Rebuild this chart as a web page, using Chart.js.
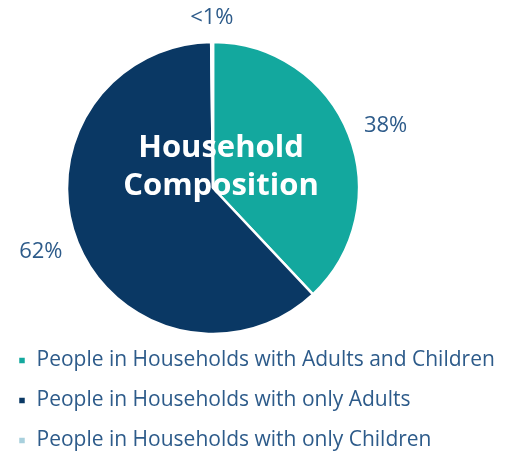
<!DOCTYPE html>
<html>
<head>
<meta charset="utf-8">
<script src="https://cdn.jsdelivr.net/npm/chart.js@4/dist/chart.umd.min.js"></script>
<style>
  html, body { margin: 0; padding: 0; background: #ffffff; }
  #wrap { width: 511px; height: 453px; position: relative; }
</style>
</head>
<body>
<div id="wrap"><canvas id="c" width="511" height="453"></canvas></div>
<script>
const categories = [
  "People in Households with Adults and Children",
  "People in Households with only Adults",
  "People in Households with only Children"
];
const shares = [38, 61.8, 0.2];
const shareLabels = ["38%", "62%", "<1%"];
const titleLines = ["Household", "Composition"];
const colors = ["#13a89e", "#0a3864", "#a8d0dd"];
const textColor = "#2d5b8a";

const FONT = "'Open Sans', Lato, sans-serif";

// reserves space on the right so the pie sits left of centre while the legend keeps full width
const rightSpacer = {
  id: 'rightSpacer',
  beforeInit(chart) {
    const box = {
      position: 'right', weight: 0, fullSize: false,
      options: {},
      left: 0, top: 0, right: 0, bottom: 0, width: 0, height: 0,
      isHorizontal() { return false; },
      update(maxWidth, maxHeight) { this.width = 85; this.height = maxHeight; },
      getPadding() { return { left: 0, right: 0, top: 0, bottom: 0 }; },
      draw() {}
    };
    Chart.layouts.addBox(chart, box);
  }
};

const outsideLabels = {
  id: 'outsideLabels',
  afterDatasetsDraw(chart) {
    const ctx = chart.ctx;
    const meta = chart.getDatasetMeta(0);
    ctx.save();
    ctx.font = "400 22px " + FONT;
    ctx.fillStyle = textColor;
    ctx.textBaseline = 'middle';
    meta.data.forEach((arc, i) => {
      const p = arc.getProps(['x', 'y', 'startAngle', 'endAngle', 'outerRadius'], true);
      const mid = (p.startAngle + p.endAngle) / 2;
      const d = p.outerRadius + 18;
      const cx = p.x + Math.cos(mid) * d;
      const cy = p.y + Math.sin(mid) * d;
      const txt = shareLabels[i];
      const w = ctx.measureText(txt).width;
      const x = cx + Math.cos(mid) * w / 2;
      const y = cy + Math.sin(mid) * 6;
      ctx.textAlign = 'center';
      ctx.fillText(txt, x, y);
    });
    const a = meta.data[0];
    ctx.font = "700 31px " + FONT;
    ctx.fillStyle = "#ffffff";
    ctx.textAlign = 'center';
    ctx.textBaseline = 'alphabetic';
    ctx.fillText(titleLines[0], a.x + 8, a.y - 31);
    ctx.fillText(titleLines[1], a.x + 8, a.y + 7);
    ctx.restore();
  }
};

new Chart(document.getElementById('c'), {
  type: 'pie',
  data: {
    labels: categories,
    datasets: [{
      data: shares,
      backgroundColor: colors,
      borderColor: "#ffffff",
      borderWidth: 2.5,
      radius: 146,
      clip: false
    }]
  },
  options: {
    responsive: false,
    animation: false,
    events: [],
    layout: { padding: { top: 45, left: -1, right: 0, bottom: -8 } },
    plugins: {
      tooltip: { enabled: false },
      legend: {
        position: 'bottom',
        align: 'start',
        labels: {
          boxWidth: 8,
          boxHeight: 8,
          padding: 19,
          color: textColor,
          font: { family: FONT, size: 21 }
        }
      }
    }
  },
  plugins: [rightSpacer, outsideLabels]
});
</script>
</body>
</html>
